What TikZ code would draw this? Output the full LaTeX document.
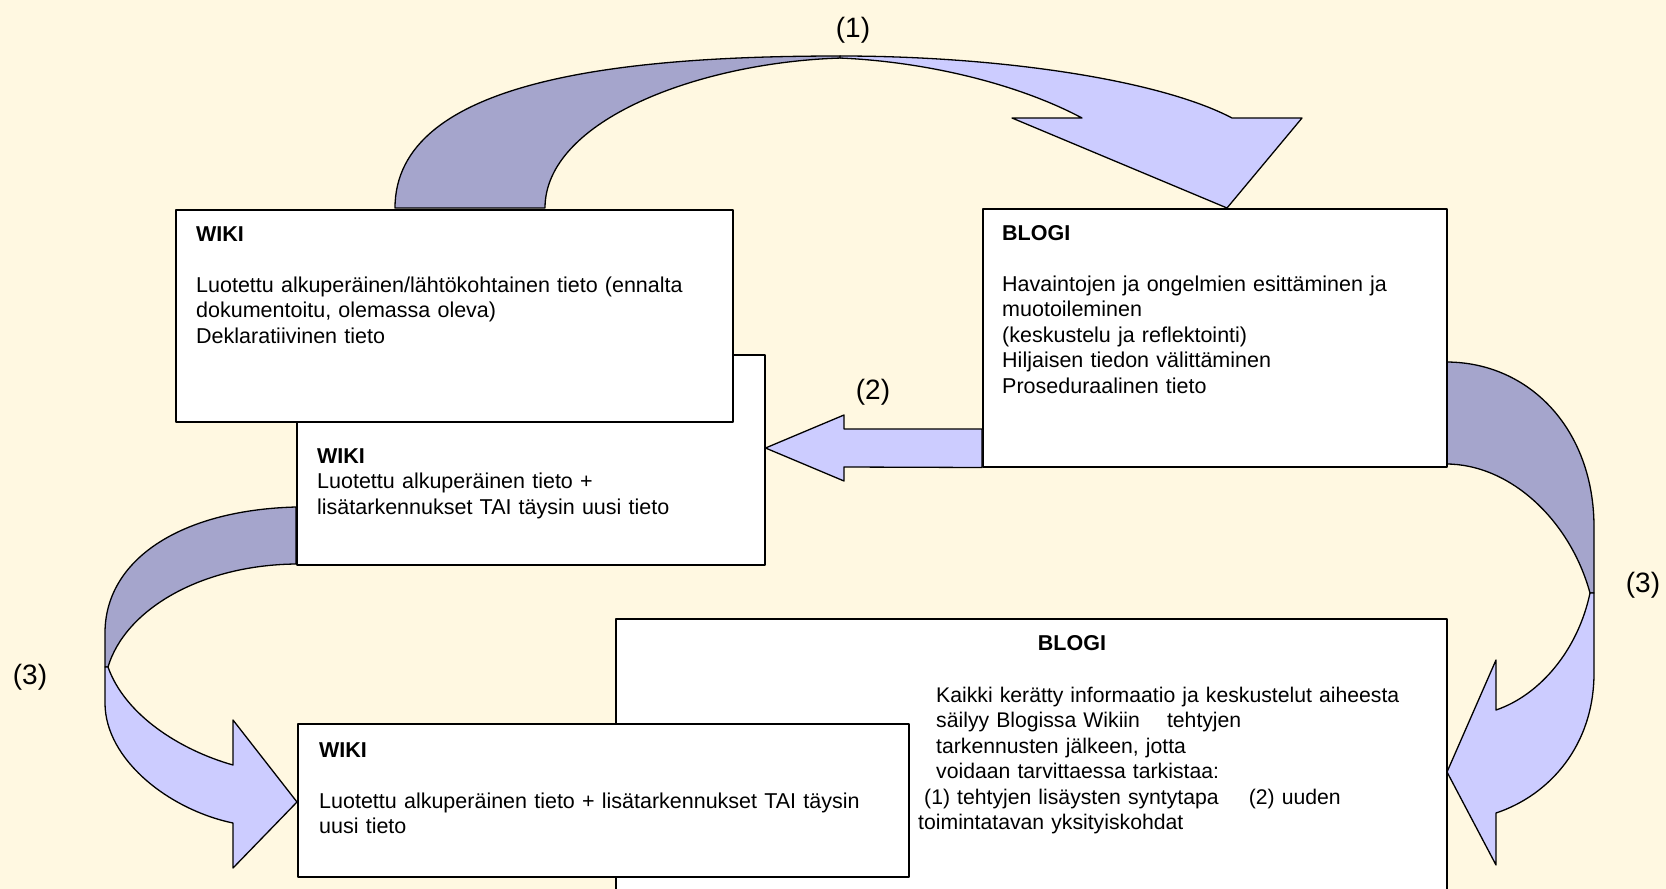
\documentclass[tikz,border=0pt]{standalone}
\usepackage{fontspec}
\setmainfont{Liberation Sans}
\usepackage{tikz}
\definecolor{paper}{RGB}{255,248,225}
\definecolor{backface}{RGB}{165,165,204}
\definecolor{frontface}{RGB}{204,204,255}

\begin{document}
\begin{tikzpicture}[x=1pt,y=-1pt,line join=round,
  box/.style={draw,fill=white,line width=1.5pt,rectangle,inner sep=0pt,anchor=north west},
  txt/.style={anchor=base west,inner sep=0pt,align=left,text width=#1,
    font=\fontsize{21.5}{25.5}\selectfont},
  txt/.default=520,
  lbl/.style={inner sep=0pt,font=\fontsize{28}{32}\selectfont},
  back/.style={draw,fill=backface,line width=1.3pt},
  front/.style={draw,fill=frontface,line width=1.3pt}]
  \path[use as bounding box,fill=paper] (0,0) rectangle (1666,889);
  \clip (0,0) rectangle (1666,889);

  \draw[back] (395,208) .. controls (395,80) and (620,56) .. (840,56) -- (842,58)
    .. controls (700,62) and (545,120) .. (545,208) -- cycle;
  \draw[front] (840,56) .. controls (1000,56) and (1160,80) .. (1232,118) -- (1302,118)
    -- (1227,208) -- (1012,118) -- (1082,118) .. controls (1020,85) and (930,62) .. (840,58) -- cycle;

  \draw[back] (1446,362) .. controls (1530,362) and (1594,430) .. (1594,527) -- (1594,593)
    -- (1590,593) .. controls (1570,520) and (1510,464) .. (1446,464) -- cycle;
  \draw[front] (1594,593) -- (1594,673) .. controls (1594,745) and (1550,795) .. (1496,813)
    -- (1496,865) -- (1447,772) -- (1496,660) -- (1496,710)
    .. controls (1540,695) and (1578,650) .. (1590,593) -- cycle;

  \draw[back] (296,507) .. controls (180,510) and (105,560) .. (105,633) -- (105,667)
    -- (108,667) .. controls (125,610) and (200,565) .. (296,564) -- cycle;
  \draw[front] (105,667) -- (105,703) .. controls (105,760) and (170,810) .. (233,823)
    -- (233,868) -- (297,802) -- (233,720) -- (233,765)
    .. controls (180,750) and (125,715) .. (108,667) -- cycle;

  \node[box,minimum width=468,minimum height=210] (wiki2) at (296,354) {};
  \node[box,minimum width=557,minimum height=212] (wiki1) at (175,209) {};
  \node[box,minimum width=464,minimum height=258] (blogi1) at (982,208) {};
  \node[box,minimum width=831,minimum height=290] (blogi2) at (615,618) {};
  \node[box,minimum width=611,minimum height=153] (wiki3) at (297,723) {};

  \draw[front] (blogi1.south west) -- (844,467) -- (844,481) -- (wiki2.east |- 0,448)
    -- (844,415) -- (844,429) -- (blogi1.west |- 0,429) -- cycle;

  \node[txt=530] (wiki1txt) at (196,241) {\textbf{WIKI}\\[25.5pt]
    Luotettu alkuperäinen/lähtökohtainen tieto (ennalta\\
    dokumentoitu, olemassa oleva)\\
    Deklaratiivinen tieto};
  \node[txt=430] (blogi1txt) at (1002,240) {\textbf{BLOGI}\\[25.5pt]
    Havaintojen ja ongelmien esittäminen ja\\
    muotoileminen\\
    (keskustelu ja reflektointi)\\
    Hiljaisen tiedon välittäminen\\
    Proseduraalinen tieto};
  \node[txt=430] (wiki2txt) at (317,463) {\textbf{WIKI}\\
    Luotettu alkuperäinen tieto +\\
    lisätarkennukset TAI täysin uusi tieto};
  \node[txt=580] (wiki3txt) at (319,757) {\textbf{WIKI}\\[25.5pt]
    Luotettu alkuperäinen tieto + lisätarkennukset TAI täysin\\
    uusi tieto};
  \node[anchor=base,inner sep=0pt,font=\fontsize{21.5}{25.5}\selectfont\bfseries]
    (blogi2head) at (1072,650) {BLOGI};
  \node[txt=520,font=\fontsize{21.2}{25.5}\selectfont] (blogi2txt) at (918,702)
    {\hspace*{18pt}Kaikki kerätty informaatio ja keskustelut aiheesta\\
    \hspace*{18pt}säilyy Blogissa Wikiin\hspace{20pt} tehtyjen\\
    \hspace*{18pt}tarkennusten jälkeen, jotta\\
    \hspace*{18pt}voidaan tarvittaessa tarkistaa:\\
    \hspace*{6pt}(1) tehtyjen lisäysten syntytapa\hspace{23pt} (2) uuden\\
    toimintatavan yksityiskohdat};

  \node[lbl] (lab1) at (853,30) {(1)};
  \node[lbl] (lab2) at (873,392) {(2)};
  \node[lbl] (lab3r) at (1643,585) {(3)};
  \node[lbl] (lab3l) at (30,677) {(3)};
\end{tikzpicture}
\end{document}
